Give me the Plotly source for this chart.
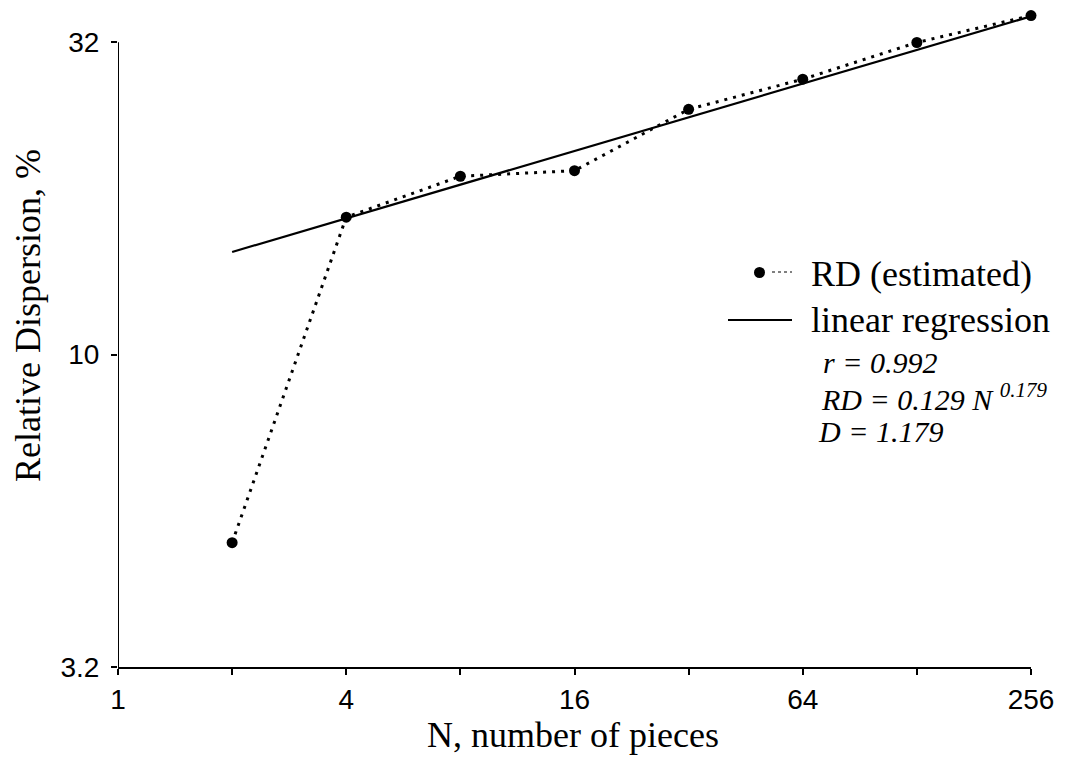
import plotly.graph_objects as go
import math

# ---- data ----
n_pieces = [2, 4, 8, 16, 32, 64, 128, 256]
rd_estimated = [5.0, 16.6, 19.3, 19.7, 24.7, 27.6, 31.6, 34.9]
reg_n = [2, 256]
reg_rd = [14.6, 34.8]
x_tickvals = [1, 4, 16, 64, 256]
x_ticktext = ["1", "4", "16", "64", "256"]
x_minor_tickvals = [2, 8, 32, 128]
y_tickvals = [10 ** 0.5, 10, 10 ** 1.5]
y_ticktext = ["3.2", "10", "32"]

W, H = 1067, 758
L, R, T, B = 118, 36, 8, 91
pw, ph = W - L - R, H - T - B


def px(x):
    return (x - L) / pw


def py(y):
    return (H - B - y) / ph


ybot = 0.5
ytop = 0.5 + ph / 624.7

SERIF = "Liberation Serif, Times New Roman, serif"
SANS = "Liberation Sans, Arial, sans-serif"

fig = go.Figure()

# y-axis line (only spans 3.2 .. 32)
fig.add_trace(go.Scatter(x=[1, 1], y=[y_tickvals[0], y_tickvals[-1]], mode="lines",
                         line=dict(color="black", width=2), hoverinfo="skip",
                         showlegend=False, cliponaxis=False))

fig.add_trace(go.Scatter(x=reg_n, y=reg_rd, mode="lines",
                         line=dict(color="black", width=2.2),
                         showlegend=False, cliponaxis=False))

fig.add_trace(go.Scatter(x=n_pieces, y=rd_estimated, mode="lines+markers",
                         line=dict(color="black", width=3, dash="3px,6px"),
                         marker=dict(color="black", size=11),
                         showlegend=False, cliponaxis=False))

fig.update_xaxes(type="log", range=[0, math.log10(256)],
                 tickvals=x_tickvals, ticktext=x_ticktext,
                 ticks="outside", ticklen=6, tickwidth=2, tickcolor="black",
                 minor=dict(tickvals=x_minor_tickvals, ticks="outside", ticklen=6,
                            tickwidth=2, tickcolor="black", showgrid=False),
                 showline=True, linecolor="black", linewidth=2,
                 showgrid=False, zeroline=False,
                 tickfont=dict(family=SANS, size=28, color="black"))

fig.update_yaxes(type="log", range=[ybot, ytop],
                 tickvals=y_tickvals, ticktext=y_ticktext,
                 ticks="outside", ticklen=6, tickwidth=2, tickcolor="black",
                 ticklabelstandoff=6,
                 showline=False, showgrid=False, zeroline=False,
                 tickfont=dict(family=SANS, size=28, color="black"))

# axis titles
fig.add_annotation(xref="paper", yref="paper", x=px(573), y=py(735),
                   text="N, number of pieces", showarrow=False,
                   xanchor="center", yanchor="middle",
                   font=dict(family=SERIF, size=36, color="black"))
fig.add_annotation(xref="paper", yref="paper", x=px(28), y=py(316),
                   text="Relative Dispersion, %", showarrow=False, textangle=-90,
                   xanchor="center", yanchor="middle",
                   font=dict(family=SERIF, size=36, color="black"))

# legend (manual)
fig.add_shape(type="circle", xref="paper", yref="paper",
              x0=px(754), x1=px(765), y0=py(278), y1=py(267),
              fillcolor="black", line=dict(color="black", width=0))
fig.add_shape(type="line", xref="paper", yref="paper",
              x0=px(772), x1=px(792), y0=py(272), y1=py(272),
              line=dict(color="black", width=1, dash="dot"))
fig.add_shape(type="line", xref="paper", yref="paper",
              x0=px(728), x1=px(792), y0=py(320), y1=py(320),
              line=dict(color="black", width=2))
fig.add_annotation(xref="paper", yref="paper", x=px(809), y=py(274),
                   text="RD (estimated)", showarrow=False, xanchor="left", yanchor="middle",
                   font=dict(family=SERIF, size=36, color="black"))
fig.add_annotation(xref="paper", yref="paper", x=px(809), y=py(320),
                   text="linear regression", showarrow=False, xanchor="left", yanchor="middle",
                   font=dict(family=SERIF, size=36, color="black"))

stats = ["<i>r = 0.992</i>",
         "<i>RD = 0.129 N <sup>0.179</sup></i>",
         "<i>D = 1.179</i>"]
stat_y = [362, 397, 432]
stat_x = [821, 819, 816]
for s, yy, xx in zip(stats, stat_y, stat_x):
    fig.add_annotation(xref="paper", yref="paper", x=px(xx), y=py(yy),
                       text=s, showarrow=False, xanchor="left", yanchor="middle",
                       font=dict(family=SERIF, size=30, color="black"))

fig.update_layout(width=W, height=H, margin=dict(l=L, r=R, t=T, b=B),
                  plot_bgcolor="white", paper_bgcolor="white", showlegend=False)

fig.write_html("out.html", config={"displayModeBar": False},
               post_script="document.body.style.margin='0';")
